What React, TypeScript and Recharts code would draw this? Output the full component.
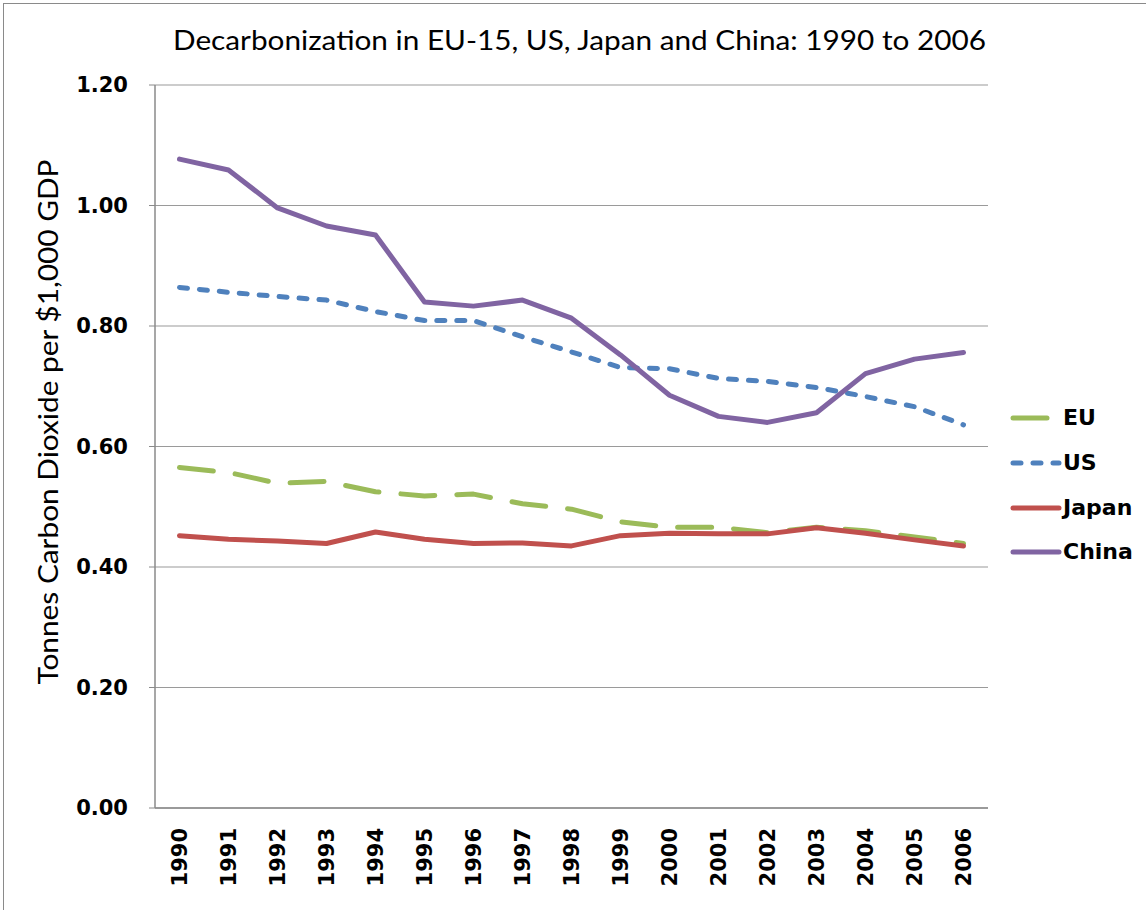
import React from "react";
import { LineChart, Line, XAxis, YAxis, CartesianGrid, Legend } from "recharts";

const years = ["1990","1991","1992","1993","1994","1995","1996","1997","1998","1999","2000","2001","2002","2003","2004","2005","2006"];
const euValues = [0.565,0.557,0.539,0.542,0.525,0.518,0.521,0.505,0.496,0.475,0.466,0.466,0.457,0.466,0.460,0.450,0.439];
const usValues = [0.864,0.856,0.849,0.843,0.824,0.809,0.809,0.782,0.757,0.731,0.729,0.713,0.708,0.698,0.683,0.666,0.636];
const japanValues = [0.452,0.446,0.443,0.439,0.458,0.446,0.439,0.440,0.435,0.452,0.456,0.455,0.455,0.465,0.456,0.445,0.435];
const chinaValues = [1.077,1.059,0.996,0.966,0.951,0.840,0.833,0.843,0.813,0.752,0.685,0.650,0.640,0.656,0.721,0.745,0.756];
const yTicks = [0, 0.2, 0.4, 0.6, 0.8, 1.0, 1.2];

const title = "Decarbonization in EU-15, US, Japan and China: 1990 to 2006";
const yLabel = "Tonnes Carbon Dioxide per $1,000 GDP";

const series = [
  { key: "EU", name: "EU", color: "#9BBB59", dash: "34 22", cap: "round" as const },
  { key: "US", name: "US", color: "#4F81BD", dash: "8 12", cap: "round" as const },
  { key: "Japan", name: "Japan", color: "#C0504D", dash: undefined, cap: "round" as const },
  { key: "China", name: "China", color: "#8064A2", dash: undefined, cap: "round" as const },
];

const data = years.map((y, i) => ({
  year: y,
  EU: euValues[i],
  US: usValues[i],
  Japan: japanValues[i],
  China: chinaValues[i],
}));

const tickFont = "'DejaVu Sans', Verdana, sans-serif";
const titleFont = "Lato, 'Open Sans', sans-serif";
const LEGEND_W = 136;

const XTick = (props: any) => {
  const { x, y, payload } = props;
  const ty = y + 20;
  return (
    <text
      x={x}
      y={ty}
      transform={`rotate(-90, ${x}, ${ty})`}
      textAnchor="end"
      dominantBaseline="central"
      fontFamily={tickFont}
      fontWeight="bold"
      fontSize={21}
      fill="#000"
    >
      {payload.value}
    </text>
  );
};

const LegendContent = () => (
  <div style={{ display: "flex", flexDirection: "column", width: LEGEND_W }}>
    {series.map((s) => (
      <div key={s.key} style={{ display: "flex", alignItems: "center", height: 44.7 }}>
        <svg width={53} height={20} style={{ display: "block", flex: "none" }}>
          <line
            x1={3}
            y1={10}
            x2={49}
            y2={10}
            stroke={s.color}
            strokeWidth={5}
            strokeDasharray={s.dash}
            strokeLinecap={s.cap}
          />
        </svg>
        <span
          style={{
            fontFamily: tickFont,
            fontWeight: "bold",
            fontSize: 22,
            color: "#000",
            lineHeight: "22px",
          }}
        >
          {s.name}
        </span>
      </div>
    ))}
  </div>
);

export default function App() {
  return (
    <div style={{ position: "absolute", left: 0, top: 0, width: 1146, height: 910, background: "#fff", overflow: "hidden" }}>
      <div
        style={{
          position: "absolute",
          left: 3,
          top: 3,
          width: 1200,
          height: 1000,
          borderTop: "1.5px solid #8a8a8a",
          borderLeft: "1.5px solid #8a8a8a",
        }}
      />
      <div style={{ position: "absolute", left: 0, top: 0 }}>
        <LineChart width={1146} height={910} data={data} margin={{ top: 85, right: 158 - LEGEND_W, bottom: 0, left: 0 }}>
          <CartesianGrid vertical={false} stroke="#9a9a9a" strokeWidth={1.2} />
          <XAxis
            dataKey="year"
            height={102}
            padding={{ left: 24.5, right: 24.5 }}
            tickLine={false}
            tickSize={0}
            tickMargin={0}
            axisLine={{ stroke: "#8a8a8a", strokeWidth: 1.5 }}
            tick={<XTick />}
            interval={0}
          />
          <YAxis
            width={155}
            domain={[0, 1.2]}
            ticks={yTicks}
            tickFormatter={(v: number) => v.toFixed(2)}
            tickSize={6}
            tickMargin={21}
            tickLine={{ stroke: "#8a8a8a" }}
            axisLine={{ stroke: "#8a8a8a", strokeWidth: 1.5 }}
            tick={{ fontFamily: tickFont, fontWeight: "bold", fontSize: 21, fill: "#000" }}
            interval={0}
          />
          <Legend
            layout="vertical"
            verticalAlign="top"
            align="right"
            width={LEGEND_W}
            content={<LegendContent />}
            wrapperStyle={{ left: 1010, top: 396, width: LEGEND_W, right: "auto", bottom: "auto" }}
          />
          {series.map((s) => (
            <Line
              key={s.key}
              type="linear"
              dataKey={s.key}
              name={s.name}
              stroke={s.color}
              strokeWidth={5}
              strokeDasharray={s.dash}
              strokeLinecap={s.cap}
              strokeLinejoin="round"
              dot={false}
              activeDot={false}
              isAnimationActive={false}
            />
          ))}
        </LineChart>
      </div>
      <svg width={1146} height={910} style={{ position: "absolute", left: 0, top: 0, pointerEvents: "none" }}>
        <text
          x={579.5}
          y={50}
          textAnchor="middle"
          fontFamily={titleFont}
          fontSize={27}
          fill="#000"
          textLength={813}
          lengthAdjust="spacingAndGlyphs"
        >
          {title}
        </text>
        <text
          x={58}
          y={422}
          transform="rotate(-90, 58, 422)"
          textAnchor="middle"
          fontFamily={titleFont}
          fontSize={26}
          fill="#000"
          textLength={525}
          lengthAdjust="spacingAndGlyphs"
        >
          {yLabel}
        </text>
      </svg>
    </div>
  );
}
